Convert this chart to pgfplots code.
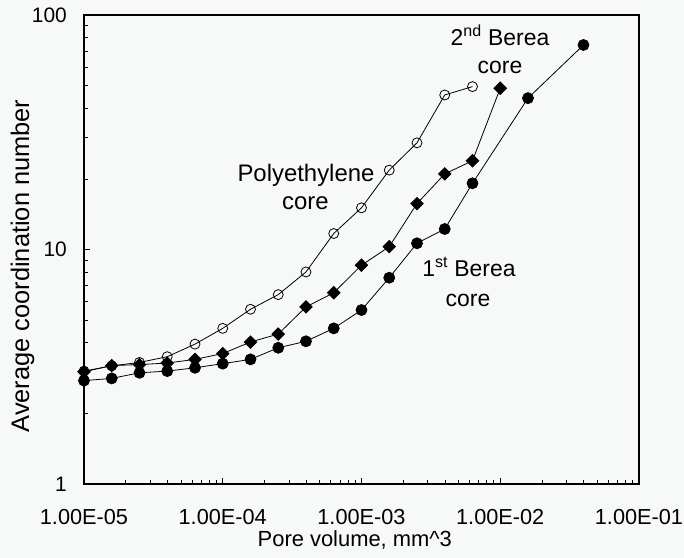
\documentclass[border=0pt]{standalone}
\usepackage{fontspec}
\setmainfont{Liberation Sans}
\usepackage{pgfplots}
\pgfplotsset{compat=1.18}
\definecolor{bg}{RGB}{247,248,248}
\begin{document}
\begin{tikzpicture}
\fill[bg] (-84bp,-74bp) rectangle (600bp,484bp);
\path[use as bounding box] (-84bp,-74bp) rectangle (600bp,484bp);
\begin{axis}[
 at={(0,0)}, anchor=south west,
 scale only axis, width=555bp, height=469bp,
 xmode=log, ymode=log,
 xmin=1e-5, xmax=1e-1, ymin=1, ymax=100,
 xtick={1e-5,1e-4,1e-3,1e-2,1e-1},
 xticklabels={1.00E-05,1.00E-04,1.00E-03,1.00E-02,1.00E-01},
 ytick={1,10,100}, yticklabels={1,10,100},
 tick align=inside, tick pos=left,
 major tick length=6.5bp, minor tick length=4bp,
 axis line style={line width=1.5bp},
 every tick/.style={black, line width=0.8bp},
 ticklabel style={font=\fontsize{21}{25}\selectfont},
 xticklabel style={anchor=base, yshift=-40bp, font=\fontsize{21.8}{25}\selectfont},
 yticklabel style={anchor=east, inner sep=0pt, xshift=-17bp},
 xlabel={Pore volume, mm\textasciicircum 3},
 ylabel={Average coordination number},
 xlabel style={at={(axis description cs:0.488,-0.1322)}, anchor=base, font=\fontsize{22}{26}\selectfont},
 ylabel style={at={(axis description cs:-0.1108,0.4648)}, anchor=center, font=\fontsize{25.5}{30}\selectfont},
 clip=false,
 every axis plot/.append style={black, line width=0.8bp},
]
\addplot[mark=o, mark size=5bp, mark options={line width=0.8bp, solid}] coordinates {
 (1e-5,3.03) (1.585e-5,3.19) (2.512e-5,3.30) (3.981e-5,3.49) (6.31e-5,3.95)
 (1e-4,4.61) (1.585e-4,5.56) (2.512e-4,6.42) (3.981e-4,8.02) (6.31e-4,11.7)
 (1e-3,15.06) (1.585e-3,21.8) (2.512e-3,28.5) (3.981e-3,45.6) (6.31e-3,49.5)
};
\addplot[mark=square*, mark size=4.4bp, mark options={rotate=45, fill=black}] coordinates {
 (1e-5,3.01) (1.585e-5,3.20) (2.512e-5,3.23) (3.981e-5,3.28) (6.31e-5,3.40)
 (1e-4,3.60) (1.585e-4,4.03) (2.512e-4,4.36) (3.981e-4,5.69) (6.31e-4,6.54)
 (1e-3,8.57) (1.585e-3,10.28) (2.512e-3,15.7) (3.981e-3,21.0) (6.31e-3,23.9)
 (1e-2,48.7)
};
\addplot[mark=*, mark size=5.5bp, mark options={fill=black}] coordinates {
 (1e-5,2.76) (1.585e-5,2.82) (2.512e-5,2.98) (3.981e-5,3.03) (6.31e-5,3.13)
 (1e-4,3.26) (1.585e-4,3.40) (2.512e-4,3.81) (3.981e-4,4.06) (6.31e-4,4.61)
 (1e-3,5.52) (1.585e-3,7.58) (2.512e-3,10.63) (3.981e-3,12.23) (6.31e-3,19.16)
 (1.585e-2,44.2) (3.981e-2,74.5)
};
\begin{scope}[font=\fontsize{23}{28}\selectfont]
\node[anchor=base, font=\fontsize{24}{28}\selectfont] at (axis description cs:0.400,0.6446) {Polyethylene};
\node[anchor=base, font=\fontsize{24}{28}\selectfont] at (axis description cs:0.399,0.5863) {core};
\node[anchor=base] at (axis description cs:0.7495,0.9345) {2\textsuperscript{nd} Berea};
\node[anchor=base] at (axis description cs:0.7495,0.8742) {core};
\node[anchor=base] at (axis description cs:0.6937,0.4420) {1\textsuperscript{st} Berea};
\node[anchor=base] at (axis description cs:0.6919,0.3795) {core};
\end{scope}
\end{axis}
\end{tikzpicture}
\end{document}
